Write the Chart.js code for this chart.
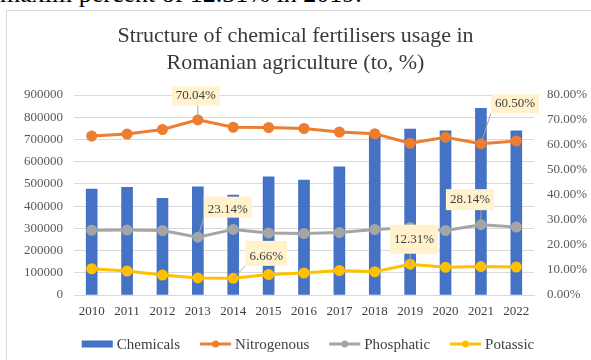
<!DOCTYPE html>
<html>
<head>
<meta charset="utf-8">
<title>Structure of chemical fertilisers usage</title>
<script src="https://cdn.jsdelivr.net/npm/chart.js@4/dist/chart.umd.min.js"></script>
<style>
  html, body { margin: 0; padding: 0; background: #fff; overflow: hidden; }
  body { width: 591px; height: 360px; position: relative; }
  #pageText {
    position: absolute; left: 0; top: -18px;
    font: 26px/24px "Liberation Serif", "Times New Roman", serif;
    color: #000; white-space: nowrap;
  }
  #frame {
    position: absolute; left: 6px; top: 10px;
    width: 640px; height: 420px; border: 1px solid #d9d9d9;
  }
  #chartBox { position: absolute; left: 0; top: 0; width: 591px; height: 360px; }
</style>
</head>
<body>
<div id="pageText">maxim percent of 12.31% in 2019.</div>
<div id="frame"></div>
<div id="chartBox"><canvas id="fertChart"></canvas></div>
<script>
// Data
const years = ['2010', '2011', '2012', '2013', '2014', '2015', '2016',
  '2017', '2018', '2019', '2020', '2021', '2022'];

// tonnes, left axis
const chemicals = [477000, 484000, 435000, 487000, 450000, 532000, 517000,
  577000, 724000, 747000, 739000, 840000, 739000];

// shares in %, right axis
const nitrogenous = [63.6, 64.4, 66.2, 70.04, 67.1, 67.0, 66.6, 65.2, 64.5, 60.7, 63.1, 60.50, 61.6];
const phosphatic = [25.9, 26.0, 25.8, 23.14, 26.24, 24.8, 24.6, 25.0, 26.2, 27.0, 25.8, 28.14, 27.2];
const potassic = [10.5, 9.6, 8.0, 6.82, 6.66, 8.2, 8.8, 9.8, 9.3, 12.31, 11.1, 11.36, 11.2];

const leftTicks = [0, 100000, 200000, 300000, 400000, 500000, 600000, 700000, 800000, 900000];
const rightTicks = [0, 10, 20, 30, 40, 50, 60, 70, 80];

const titleLines = ['Structure of chemical fertilisers usage in', 'Romanian agriculture (to, %)'];

const FONT = '"Liberation Serif", "Times New Roman", serif';
const COLORS = {
  bar: '#4472C4',
  nitro: '#ED7D31',
  phos: '#A5A5A5',
  pot: '#FFC000',
  grid: '#d9d9d9',
  tick: '#595959'
};

/**
 * Callout boxes with leader lines, anchored on the data points
 */
const calloutPlugin = {
  id: 'callouts',
  afterDatasetsDraw(chart, args, opts) {
    const ctx = chart.ctx;
    ctx.save();
    ctx.font = opts.font;
    opts.items.forEach((item) => {
      const el = chart.getDatasetMeta(item.dataset).data[item.index];
      const value = chart.data.datasets[item.dataset].data[item.index];
      const text = value.toFixed(2) + '%';
      const w = ctx.measureText(text).width + opts.padX * 2;
      const h = item.h || opts.height;
      const cx = el.x + item.dx;
      const cy = el.y + item.dy;
      const left = cx - w / 2;
      const top = cy - h / 2;

      // leader line from point to nearest box edge
      const ex = Math.min(Math.max(el.x, left), left + w);
      const ey = Math.min(Math.max(el.y, top), top + h);
      if (Math.hypot(ex - el.x, ey - el.y) > 6) {
        ctx.strokeStyle = opts.leaderColor;
        ctx.lineWidth = 1;
        ctx.beginPath();
        ctx.moveTo(el.x, el.y);
        ctx.lineTo(ex, ey);
        ctx.stroke();
      }

      ctx.fillStyle = opts.fill;
      ctx.fillRect(left, top, w, h);
      ctx.fillStyle = opts.color;
      ctx.textAlign = 'center';
      ctx.textBaseline = 'middle';
      ctx.fillText(text, cx, cy + (item.textShift || 0));
    });
    ctx.restore();
  }
};

/**
 * Legend drawn below the axis, bar swatch for bars, line + marker for lines
 */
const legendPlugin = {
  id: 'bottomLegend',
  afterDraw(chart, args, opts) {
    const ctx = chart.ctx;
    ctx.save();
    ctx.font = opts.font;
    ctx.textBaseline = 'middle';
    ctx.textAlign = 'left';
    const sets = chart.data.datasets;
    const widths = sets.map((ds) => opts.swatch + opts.textGap + ctx.measureText(ds.label).width);
    const total = widths.reduce((a, b) => a + b, 0) + opts.itemGap * (sets.length - 1);
    let x = opts.centerX - total / 2;
    const y = opts.y;
    sets.forEach((ds, i) => {
      if (ds.type === 'bar') {
        ctx.fillStyle = ds.backgroundColor;
        ctx.fillRect(x, y - 3.5, opts.swatch, 7);
      } else {
        ctx.strokeStyle = ds.borderColor;
        ctx.lineWidth = 3;
        ctx.beginPath();
        ctx.moveTo(x, y);
        ctx.lineTo(x + opts.swatch, y);
        ctx.stroke();
        ctx.fillStyle = ds.pointBackgroundColor;
        ctx.beginPath();
        ctx.arc(x + opts.swatch / 2, y, 3.5, 0, Math.PI * 2);
        ctx.fill();
      }
      ctx.fillStyle = opts.color;
      ctx.fillText(ds.label, x + opts.swatch + opts.textGap, y + 1);
      x += widths[i] + opts.itemGap;
    });
    ctx.restore();
  }
};

function lineSet(label, data, color, order) {
  return {
    type: 'line',
    label,
    data,
    yAxisID: 'yPct',
    borderColor: color,
    backgroundColor: color,
    pointBackgroundColor: color,
    pointBorderColor: color,
    borderWidth: 3,
    pointRadius: 4,
    tension: 0,
    order
  };
}

const ctx = document.getElementById('fertChart').getContext('2d');

new Chart(ctx, {
  data: {
    labels: years,
    datasets: [
      {
        type: 'bar',
        label: 'Chemicals',
        data: chemicals,
        yAxisID: 'yTon',
        backgroundColor: COLORS.bar,
        barThickness: 11,
        order: 10
      },
      lineSet('Nitrogenous', nitrogenous, COLORS.nitro, 1),
      lineSet('Phosphatic', phosphatic, COLORS.phos, 2),
      lineSet('Potassic', potassic, COLORS.pot, 3)
    ]
  },
  options: {
    responsive: true,
    maintainAspectRatio: false,
    animation: false,
    layout: { padding: 0 },
    scales: {
      x: {
        grid: { display: false, drawTicks: false },
        border: { display: true, color: COLORS.grid },
        ticks: { color: '#404040', padding: 9, font: { family: FONT, size: 13 } },
        afterFit(scale) { scale.height = 65; }
      },
      yTon: {
        position: 'left',
        min: 0,
        max: 900000,
        afterBuildTicks(scale) { scale.ticks = leftTicks.map((v) => ({ value: v })); },
        ticks: {
          color: COLORS.tick,
          padding: 11,
          font: { family: FONT, size: 13 },
          callback: (v) => String(v)
        },
        grid: { color: COLORS.grid, drawTicks: false },
        border: { display: false },
        afterFit(scale) { scale.width = 74; }
      },
      yPct: {
        position: 'right',
        min: 0,
        max: 80,
        afterBuildTicks(scale) { scale.ticks = rightTicks.map((v) => ({ value: v })); },
        ticks: {
          color: COLORS.tick,
          padding: 13,
          font: { family: FONT, size: 13 },
          callback: (v) => v.toFixed(2) + '%'
        },
        grid: { display: false, drawTicks: false },
        border: { display: false },
        afterFit(scale) { scale.width = 57; }
      }
    },
    plugins: {
      legend: { display: false },
      tooltip: { enabled: false },
      title: {
        display: true,
        text: titleLines,
        color: '#3a3a3a',
        font: { family: FONT, size: 22, weight: 'normal', lineHeight: 1.25 },
        padding: { top: 22, bottom: 18 }
      },
      callouts: {
        font: '13px ' + FONT,
        color: '#404040',
        fill: '#FFF2CC',
        leaderColor: '#a6a6a6',
        padX: 4,
        height: 19,
        items: [
          { dataset: 1, index: 3, dx: -2, dy: -24 },
          { dataset: 1, index: 11, dx: 34, dy: -40 },
          { dataset: 2, index: 3, dx: 30, dy: -30, h: 21, textShift: 2 },
          { dataset: 2, index: 11, dx: -11, dy: -25, h: 21 },
          { dataset: 3, index: 4, dx: 33, dy: -25, h: 25, textShift: 3 },
          { dataset: 3, index: 9, dx: 4, dy: -25, h: 29 }
        ]
      },
      bottomLegend: {
        font: '15px ' + FONT,
        color: '#404040',
        y: 344,
        centerX: 308,
        swatch: 31,
        textGap: 4,
        itemGap: 20
      }
    }
  },
  plugins: [calloutPlugin, legendPlugin]
});
</script>
</body>
</html>
